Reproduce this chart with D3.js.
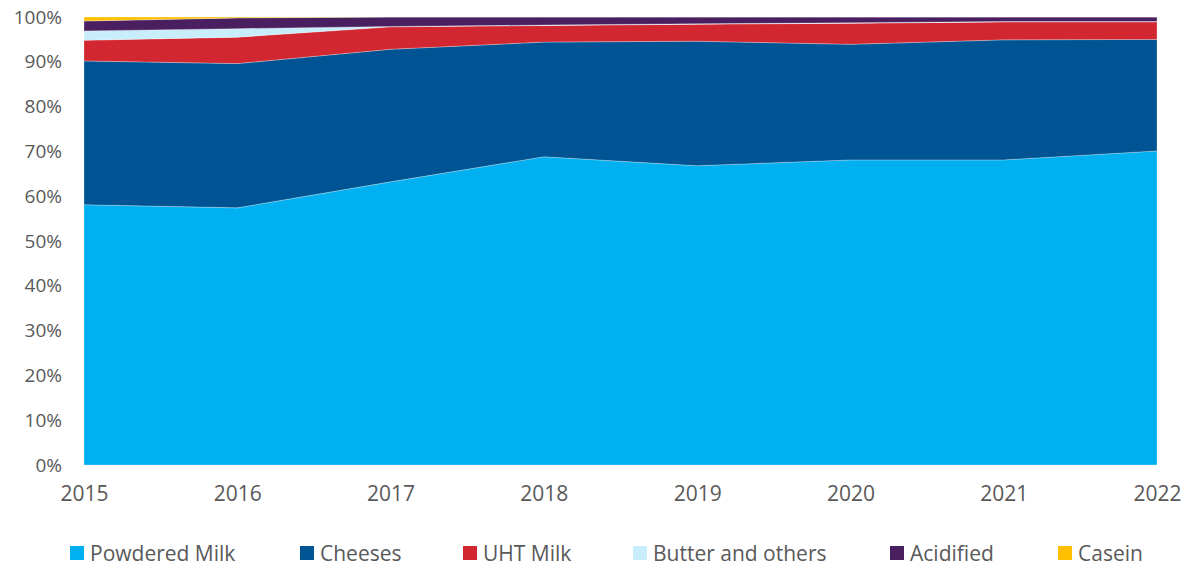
<!DOCTYPE html>
<html>
<head>
<meta charset="utf-8">
<script src="https://cdn.jsdelivr.net/npm/d3@7"></script>
<style>
  html, body { margin: 0; padding: 0; background: #fff; }
  svg { display: block; font-family: "Open Sans", "Noto Sans", sans-serif; }
</style>
</head>
<body>
<svg id="chart" width="1191" height="569"></svg>
<script>
// Share of dairy exports by product (% of total), 2015–2022
const years = [2015, 2016, 2017, 2018, 2019, 2020, 2021, 2022];
const powderedMilk = [58.1, 57.4, 63.2, 68.8, 66.8, 68.1, 68.1, 70.1];
const cheeses      = [32.1, 32.2, 29.6, 25.6, 27.8, 25.8, 26.8, 24.9];
const uhtMilk      = [4.6,  5.9,  5.0,  3.7,  3.8,  4.7,  4.0,  3.9];
const butterOthers = [2.1,  1.9,  0.1,  0.1,  0.1,  0.1,  0.1,  0.1];
const acidified    = [2.2,  2.4,  2.1,  1.8,  1.5,  1.3,  1.0,  1.0];
const casein       = [0.9,  0.2,  0.0,  0.0,  0.0,  0.0,  0.0,  0.0];
const yTicks = [0, 10, 20, 30, 40, 50, 60, 70, 80, 90, 100];

const seriesNames  = ["Powdered Milk", "Cheeses", "UHT Milk", "Butter and others", "Acidified", "Casein"];
const seriesValues = [powderedMilk, cheeses, uhtMilk, butterOthers, acidified, casein];
const seriesColors = ["#00B0F0", "#005494", "#D22630", "#C9EEFB", "#4A1F60", "#FFC000"];

const rows = years.map((yr, i) => {
  const r = { year: yr };
  seriesNames.forEach((n, k) => { r[n] = seriesValues[k][i]; });
  return r;
});

const svg = d3.select("#chart");
const x = d3.scaleLinear().domain([2015, 2022]).range([84, 1157]);
const y = d3.scaleLinear().domain([0, 100]).range([465, 17]);

const stacked = d3.stack().keys(seriesNames)(rows);

const area = d3.area()
  .x(d => x(d.data.year))
  .y0(d => y(d[0]))
  .y1(d => y(Math.min(100, d[1])));

svg.append("g").selectAll("path")
  .data(stacked)
  .join("path")
  .attr("d", area)
  .attr("fill", (d, i) => seriesColors[i])
  .attr("stroke", "#ffffff")
  .attr("stroke-opacity", 0.45)
  .attr("stroke-width", 0.6);

// Y axis (labels only)
const yAxis = d3.axisLeft(y)
  .tickValues(yTicks)
  .tickFormat(d => d + "%")
  .tickSize(0)
  .tickPadding(0);
const gy = svg.append("g").attr("transform", "translate(62,0)").call(yAxis);
gy.select(".domain").remove();
gy.selectAll("text")
  .attr("fill", "#595959")
  .style("font-size", "19px")
  .style("font-family", "'Open Sans', sans-serif");

// X axis (labels only)
const xAxis = d3.axisBottom(x)
  .tickValues(years)
  .tickFormat(d3.format("d"))
  .tickSize(0)
  .tickPadding(0);
const gx = svg.append("g").attr("transform", "translate(0,486)").call(xAxis);
gx.select(".domain").remove();
gx.selectAll("text")
  .attr("fill", "#595959")
  .style("font-size", "21px")
  .style("font-family", "'Open Sans', sans-serif");

// Legend
const legendX = [70, 300, 463, 633, 890, 1058];
const legend = svg.append("g").selectAll("g")
  .data(seriesNames)
  .join("g")
  .attr("transform", (d, i) => `translate(${legendX[i]},546)`);
legend.append("rect")
  .attr("width", 14).attr("height", 14)
  .attr("fill", (d, i) => seriesColors[i]);
legend.append("text")
  .attr("x", 20).attr("y", 8)
  .attr("dy", "0.35em")
  .attr("fill", "#595959")
  .style("font-size", "21px")
  .text(d => d);
</script>
</body>
</html>
